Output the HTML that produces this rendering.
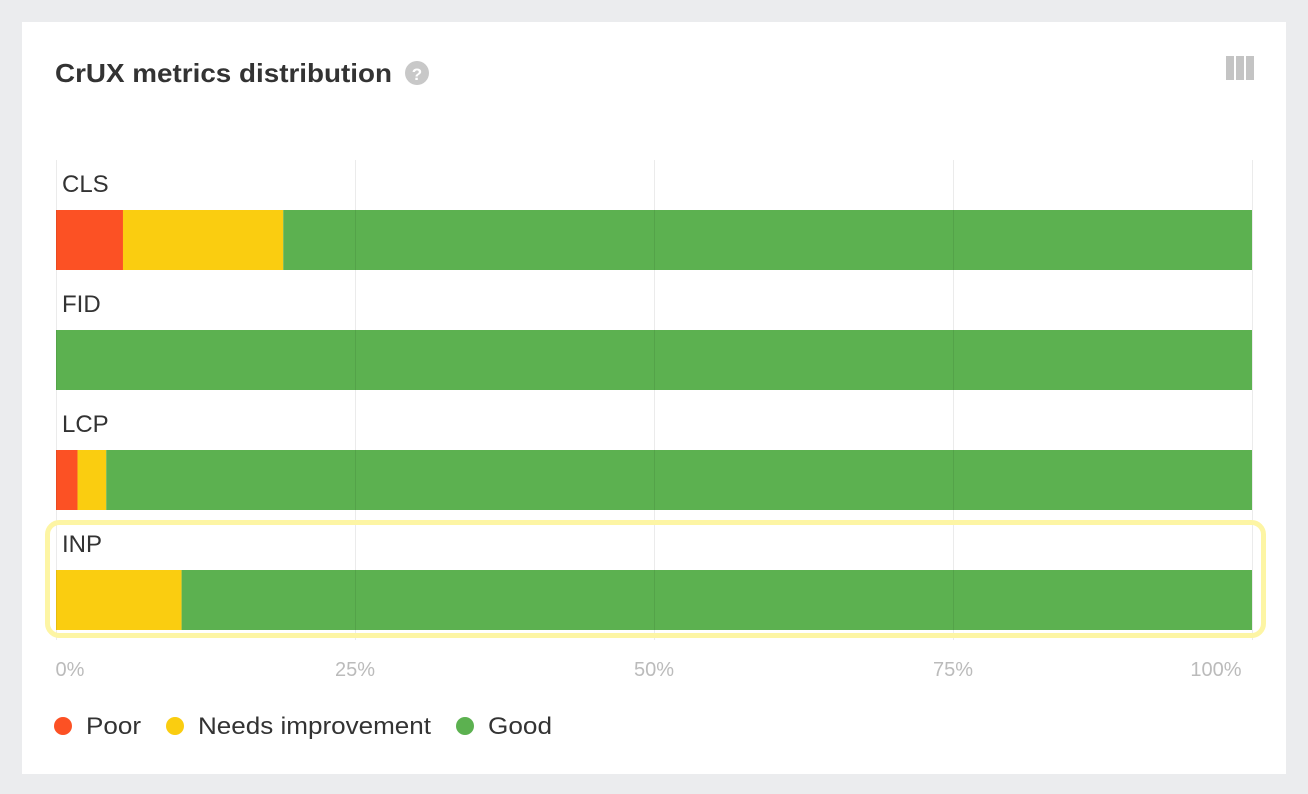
<!DOCTYPE html>
<html><head><meta charset="utf-8"><style>
body{margin:0;width:1308px;height:794px;background:#ebecee;font-family:"Liberation Sans",sans-serif;overflow:hidden}
#card{position:absolute;left:22px;top:22px;width:1264px;height:752px;background:#fff}
</style></head><body>
<div id="card"></div>
<svg id="chart" width="1308" height="794" style="position:absolute;left:0;top:0">
<text x="55" y="82" font-size="26" font-weight="bold" fill="#333" textLength="337" lengthAdjust="spacingAndGlyphs">CrUX metrics distribution</text>
<g><circle cx="417" cy="73" r="12" fill="#c8c8c8"/><text x="417" y="80" font-size="17" font-weight="bold" fill="#fff" text-anchor="middle">?</text></g>
<g fill="#c4c4c4"><rect x="1226" y="56" width="8" height="24"/><rect x="1236" y="56" width="8" height="24"/><rect x="1246" y="56" width="8" height="24"/></g>
<g id="bars"></g><g id="grid"></g><g id="ticks"></g>
<rect x="47.5" y="522.5" width="1216" height="113" rx="12" fill="none" stroke="#fdf5a4" stroke-width="5"/>
<g font-size="24" fill="#333">
<g><circle cx="63" cy="726" r="9" fill="#fc5124"/><text x="86" y="734" textLength="55" lengthAdjust="spacingAndGlyphs">Poor</text></g>
<g><circle cx="175" cy="726" r="9" fill="#facd10"/><text x="198" y="734" textLength="233" lengthAdjust="spacingAndGlyphs">Needs improvement</text></g>
<g><circle cx="465" cy="726" r="9" fill="#5cb150"/><text x="488" y="734" textLength="64" lengthAdjust="spacingAndGlyphs">Good</text></g>
</g>
</svg>
<script>
const categories=["CLS","FID","LCP","INP"];
const poor=[5.6,0,1.8,0];
const needsImprovement=[13.4,0,2.4,10.5];
const good=[81,100,95.8,89.5];
const tickValues=[0,25,50,75,100];
const tickLabels=["0%","25%","50%","75%","100%"];
const NS="http://www.w3.org/2000/svg";
const x0=56,x1=1252,rowTop=160,rowH=120;
const xs=v=>x0+(x1-x0)*v/100;
function mk(t,a,p){const e=document.createElementNS(NS,t);for(const k in a)e.setAttribute(k,a[k]);p.appendChild(e);return e;}
const grid=document.getElementById('grid'),bars=document.getElementById('bars'),ticks=document.getElementById('ticks');
tickValues.forEach((v,i)=>{
 const l=mk('line',{x1:xs(v)+0.5,x2:xs(v)+0.5,y1:rowTop,y2:rowTop+rowH*categories.length,stroke:'#000','stroke-opacity':0.08,'stroke-width':1},grid);
 
 
 const off=i==0?14:(i==tickValues.length-1?-36:0);
 const t=mk('text',{x:xs(v)+off,y:676,'font-size':20,fill:'#bbb','text-anchor':'middle'},ticks);
 t.textContent=tickLabels[i];
 
 
});
const colors=['#fc5124','#facd10','#5cb150'],names=['poor','needs-improvement','good'];
categories.forEach((c,i)=>{
 const y=rowTop+rowH*i;
 const t=mk('text',{x:62,y:y+32,'font-size':24,fill:'#333'},bars);
 t.textContent=c;
 
 
 let acc=0;
 [poor[i],needsImprovement[i],good[i]].forEach((v,j)=>{
  if(v>0){const r=mk('rect',{x:xs(acc),y:y+50,width:xs(acc+v)-xs(acc),height:60,fill:colors[j]},bars);
  
  }
  acc+=v;
 });
});
</script>
</body></html>
